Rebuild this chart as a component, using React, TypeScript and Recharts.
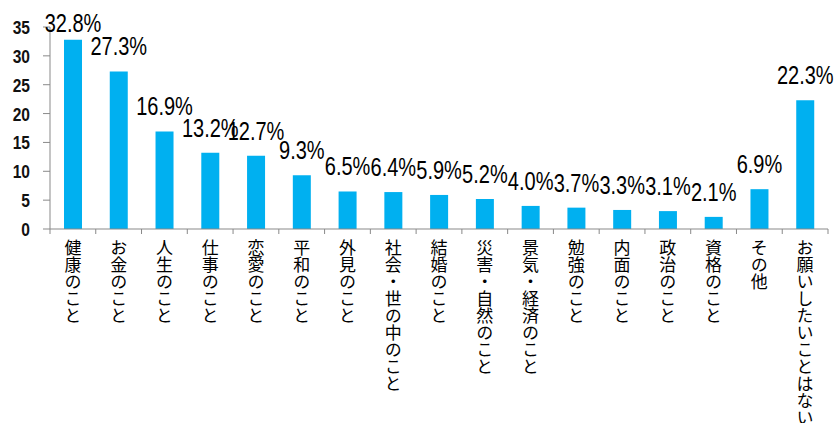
import { BarChart, Bar, XAxis, YAxis, LabelList } from 'recharts'

const categories = [
  '健康のこと',
  'お金のこと',
  '人生のこと',
  '仕事のこと',
  '恋愛のこと',
  '平和のこと',
  '外見のこと',
  '社会・世の中のこと',
  '結婚のこと',
  '災害・自然のこと',
  '景気・経済のこと',
  '勉強のこと',
  '内面のこと',
  '政治のこと',
  '資格のこと',
  'その他',
  'お願いしたいことはない',
]
const values = [32.8, 27.3, 16.9, 13.2, 12.7, 9.3, 6.5, 6.4, 5.9, 5.2, 4.0, 3.7, 3.3, 3.1, 2.1, 6.9, 22.3]
const yTicks = [0, 5, 10, 15, 20, 25, 30, 35]

const data = categories.map((name, i) => ({ name, value: values[i] }))

const W = 835
const H = 423
const LEFT = 50
const RIGHT = 7
const BAND = (W - LEFT - RIGHT) / categories.length
const AXIS = '#898989'
const NUM_FONT = "'Liberation Sans', Arial, sans-serif"

function CategoryTick(props: any) {
  const { x, y, payload, index } = props
  const last = index === categories.length - 1
  return (
    <g>
      <line x1={x - BAND / 2} y1={y} x2={x - BAND / 2} y2={y + 5} stroke={AXIS} />
      {last && <line x1={x + BAND / 2} y1={y} x2={x + BAND / 2} y2={y + 5} stroke={AXIS} />}
      <text
        x={x}
        y={y + 10}
        fontSize={17}
        fill="#000"
        fontFamily="'Noto Sans CJK JP', sans-serif"
        style={{ writingMode: 'vertical-rl' }}
        textAnchor="start"
      >
        {payload.value}
      </text>
    </g>
  )
}

function ValueTick(props: any) {
  const { x, y, payload } = props
  return (
    <text
      transform={`translate(${x},${y + 7}) scale(0.82,1)`}
      textAnchor="end"
      fontSize={19}
      fontWeight="bold"
      fill="#111"
      fontFamily={NUM_FONT}
    >
      {payload.value}
    </text>
  )
}

function ValueLabel(props: any) {
  const { x, y, width, value } = props
  const base = Math.max(y - 16, 32)
  return (
    <text
      transform={`translate(${x + width / 2},${base}) scale(0.8,1)`}
      textAnchor="middle"
      fontSize={25}
      fill="#000"
      fontFamily={NUM_FONT}
    >
      {value.toFixed(1)}%
    </text>
  )
}

export default function App() {
  return (
    <div style={{ position: 'absolute', left: 0, top: 0, background: '#fff' }}>
      <BarChart width={W} height={H} data={data} margin={{ top: 27, right: RIGHT, bottom: 0, left: 0 }}>
        <XAxis
          dataKey="name"
          interval={0}
          height={H - 229}
          tickLine={false}
          tickSize={0}
          tickMargin={0}
          axisLine={{ stroke: AXIS }}
          tick={<CategoryTick />}
        />
        <XAxis xAxisId="top" dataKey="name" orientation="top" height={0} tick={false} tickLine={false} axisLine={{ stroke: AXIS }} />
        <YAxis
          domain={[0, 35]}
          ticks={yTicks}
          interval={0}
          width={LEFT}
          tickSize={7}
          tickMargin={13}
          axisLine={{ stroke: AXIS }}
          tickLine={{ stroke: AXIS }}
          tick={<ValueTick />}
        />
        <YAxis yAxisId="right" orientation="right" width={0} domain={[0, 35]} tick={false} tickLine={false} axisLine={{ stroke: AXIS }} />
        <Bar dataKey="value" fill="#00B0F0" barSize={18} isAnimationActive={false}>
          <LabelList dataKey="value" content={<ValueLabel />} />
        </Bar>
      </BarChart>
    </div>
  )
}
